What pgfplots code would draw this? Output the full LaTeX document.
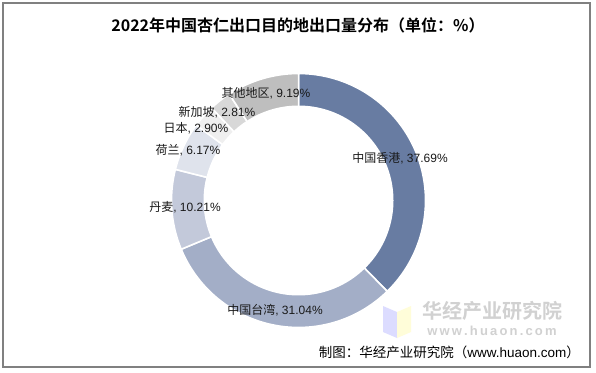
\documentclass[border=0pt]{standalone}
\usepackage{pgfplots}
\pgfplotsset{compat=1.18}
\usepackage{fontspec}
\setmainfont{Liberation Sans}
\newfontfamily\cjk{Noto Sans CJK SC}[BoldFont={Noto Sans CJK SC Bold}]
\definecolor{hk}{HTML}{687CA2}
\definecolor{tw}{HTML}{A3AEC7}
\definecolor{dk}{HTML}{C3C9DA}
\definecolor{nl}{HTML}{DFE3EC}
\definecolor{jp}{HTML}{EFEFEF}
\definecolor{sg}{HTML}{D8D8D8}
\definecolor{ot}{HTML}{BEBEBE}
\definecolor{frame}{HTML}{808080}
\begin{document}
\begin{tikzpicture}
\begin{axis}[
  width=596bp, height=373bp, scale only axis,
  xmin=0, xmax=596, ymin=0, ymax=373, y dir=reverse,
  hide axis, clip=false,
]
\path[fill=white] (axis cs:0,0) rectangle (axis cs:596,373);
\draw[frame, line width=1.1bp] (axis cs:3,3) rectangle (axis cs:590,367);
% donut segments: value (percent) / colour, clockwise from 12 o'clock
\gdef\cum{0}
\foreach \v/\col in {37.69/hk,31.04/tw,10.21/dk,6.17/nl,2.90/jp,2.81/sg,9.19/ot}{
  \pgfmathsetmacro\a{90-3.6*\cum}
  \pgfmathsetmacro\newcum{\cum+\v}
  \pgfmathsetmacro\b{90-3.6*\newcum}
  \xdef\cum{\newcum}
  \edef\temp{\noexpand\addplot[fill=\col, draw=white, line width=1.6bp, domain=\b:\a, samples=90]
    ({298.5+127*cos(x)},{200.5-127*sin(x)}) -- (axis cs:298.5,200.5) -- cycle;}
  \temp
}
\addplot[fill=white, draw=none, domain=0:360, samples=180] ({298.5+95*cos(x)},{200.5-95*sin(x)}) -- cycle;
% labels
\begin{scope}[every node/.style={font=\fontsize{12bp}{14bp}\selectfont, text=black!90, inner sep=0pt}]
\node at (axis cs:400,158) {{\cjk 中国香港}, 37.69\%};
\node at (axis cs:275,310) {{\cjk 中国台湾}, 31.04\%};
\node at (axis cs:185,207) {{\cjk 丹麦}, 10.21\%};
\node at (axis cs:188,150) {{\cjk 荷兰}, 6.17\%};
\node at (axis cs:196,128) {{\cjk 日本}, 2.90\%};
\node at (axis cs:217,112) {{\cjk 新加坡}, 2.81\%};
\node at (axis cs:266,93) {{\cjk 其他地区}, 9.19\%};
\end{scope}
% watermark
\fill[blue!15!white, opacity=0.9] (axis cs:383,306) -- (axis cs:397,312) -- (axis cs:397,338) -- (axis cs:383,332) -- cycle;
\fill[yellow!15!white] (axis cs:397,312) -- (axis cs:411,306) -- (axis cs:411,332) -- (axis cs:397,338) -- cycle;
\node[text=black!18, font=\cjk\bfseries\fontsize{20bp}{22bp}\selectfont, inner sep=0pt] at (axis cs:492,311) {华经产业研究院};
\node[text=black!18, font=\bfseries\fontsize{13bp}{14bp}\selectfont, inner sep=0pt] at (axis cs:492,331) {w\,w\,w\,.\,h\,u\,a\,o\,n\,.\,c\,o\,m};
% title and source
\node[font=\cjk\bfseries\fontsize{16bp}{18bp}\selectfont, inner sep=0pt] at (axis cs:298,25) {2022年中国杏仁出口目的地出口量分布（单位：\%）};
\node[font=\fontsize{13.5bp}{15bp}\selectfont, inner sep=0pt, anchor=east] at (axis cs:580,352) {{\cjk 制图：华经产业研究院（}www.huaon.com{\cjk ）}};
\end{axis}
\end{tikzpicture}
\end{document}
